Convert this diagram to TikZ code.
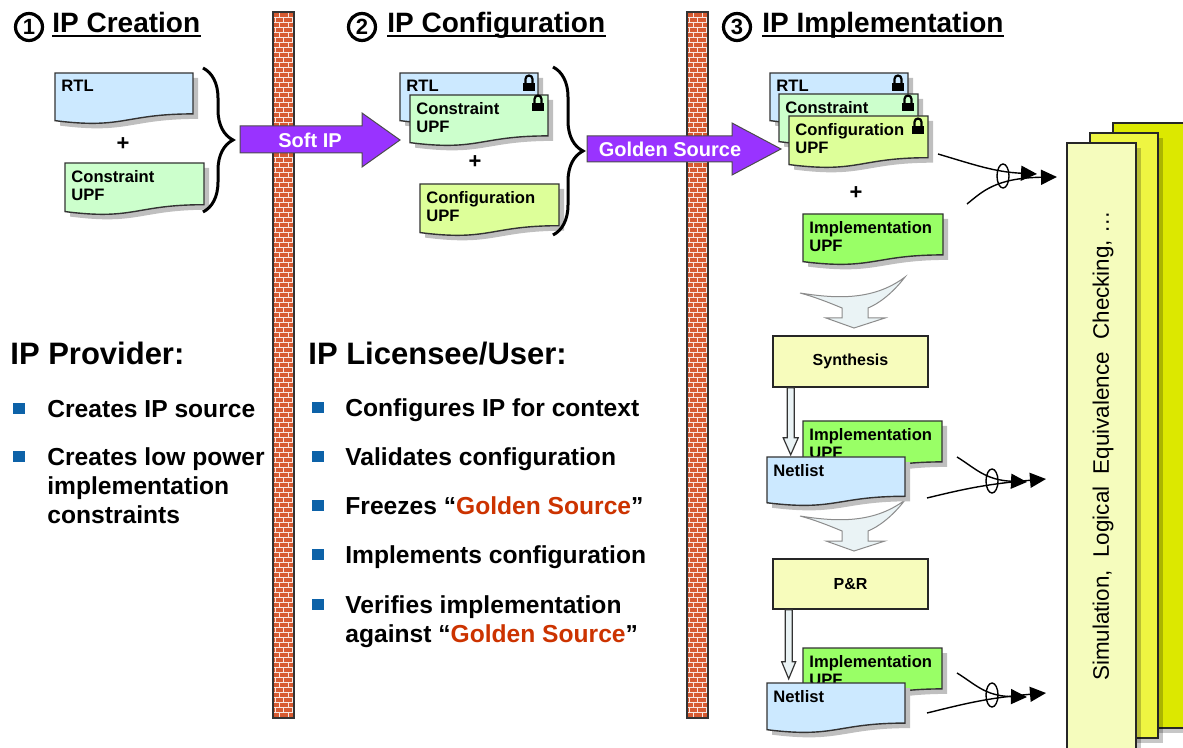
\documentclass[tikz,border=0pt]{standalone}
\usepackage{fontspec}
\setmainfont{Liberation Sans}
\usepackage{xcolor}
\usepackage{tikz}
\usetikzlibrary{shapes.geometric, arrows.meta, positioning, decorations.pathreplacing}

\definecolor{docblue}{HTML}{CCE9FF}
\definecolor{docmint}{HTML}{CCFFCC}
\definecolor{doclime}{HTML}{DDFF99}
\definecolor{docgreen}{HTML}{99FF66}
\definecolor{stepyellow}{HTML}{F7FCBC}
\definecolor{pageback}{HTML}{DCE800}
\definecolor{pagemid}{HTML}{EEF542}
\definecolor{pagefront}{HTML}{F5FCBD}
\definecolor{swoosh}{HTML}{EAF3F5}
\definecolor{arrowpurple}{HTML}{9933FF}
\definecolor{brick}{HTML}{D65A31}
\definecolor{golden}{HTML}{CC3300}
\definecolor{bulletblue}{HTML}{0D62A8}

\tikzstyle{docsheet} = [draw=black!80, line width=0.7pt]
\tikzstyle{docshadow} = [fill=black!25]
\tikzstyle{doctext} = [font=\bfseries\fontsize{8.3}{9}\selectfont, align=left, inner sep=0pt, anchor=north west]
\tikzstyle{stepbox} = [rectangle, draw=black!85, line width=0.8pt, fill=stepyellow, minimum width=77.5pt, minimum height=25.5pt, font=\bfseries\fontsize{8}{9}\selectfont]
\tikzstyle{plus} = [font=\bfseries\fontsize{11}{12}\selectfont, inner sep=0pt]
\tikzstyle{numcircle} = [circle, draw, line width=1.6pt, minimum size=13.5pt, inner sep=0pt, font=\bfseries\fontsize{11}{11}\selectfont]
\tikzstyle{titletext} = [anchor=base west, inner sep=0pt, font=\bfseries\fontsize{14}{16}\selectfont]
\tikzstyle{heading} = [anchor=base west, inner sep=0pt, font=\bfseries\fontsize{15.5}{18}\selectfont]
\tikzstyle{listitem} = [anchor=north west, inner sep=0pt, align=left, font=\bfseries\fontsize{12.3}{14.5}\selectfont]
\tikzstyle{bulletsq} = [rectangle, fill=bulletblue, minimum size=5.7pt, inner sep=0pt]
\tikzstyle{bigarrow} = [fill=arrowpurple, draw=black!70, line width=0.5pt]
\tikzstyle{arrowtext} = [text=white, font=\bfseries\fontsize{10}{12}\selectfont, inner sep=0pt]
\tikzstyle{hollow} = [fill=swoosh, draw=black!80, line width=0.6pt]
\tikzstyle{swooshshape} = [fill=swoosh, draw=black!45, line width=0.5pt]
\tikzstyle{bundle} = [line width=0.7pt, -{Triangle[length=8pt,width=7.5pt]}]
\tikzstyle{pagesheet} = [draw=black!85, line width=0.7pt]
\tikzstyle{bracestyle} = [decorate, decoration={brace, amplitude=15pt}, line width=1.5pt]
\tikzstyle{mortar} = [white!85!brick, line width=0.45pt]

\newcommand{\docpage}[7]{%
  \begin{scope}[shift={(#2,#3)}]
    \fill[docshadow] (5,5) -- (#4+5,5) -- (#4+5,0.802*#5+5) .. controls (#4/2+5,0.802*#5+5) and (#4/2+5,1.107*#5+5) .. (5,0.934*#5+5) -- cycle;
    \draw[docsheet, fill=#6] (0,0) -- (#4,0) -- (#4,0.802*#5) .. controls (#4/2,0.802*#5) and (#4/2,1.107*#5) .. (0,0.934*#5) -- cycle;
    \node[doctext] (#1) at (6,7) {#7};
  \end{scope}}

\newcommand{\padlock}[2]{%
  \fill (#1-6,#2) rectangle (#1+6,#2+8);
  \draw[line width=1.1pt] (#1-3.5,#2) -- (#1-3.5,#2-4) arc[start angle=180, end angle=360, radius=3.5] -- (#1+3.5,#2);}

\begin{document}
\begin{tikzpicture}[x=0.5pt, y=-0.5pt]
    \useasboundingbox (0,0) rectangle (1183,748);

    % brick walls
    \foreach \wx in {273,687} {
        \begin{scope}
            \clip (\wx,12) rectangle (\wx+21,718);
            \fill[brick] (\wx,12) rectangle (\wx+21,718);
            \foreach \r in {0,2,...,140} {
                \draw[mortar] (\wx,12+5*\r) -- ++(21,0) (\wx+6,12+5*\r) -- ++(0,5) (\wx+15,12+5*\r) -- ++(0,5);
                \draw[mortar] (\wx,17+5*\r) -- ++(21,0) (\wx+2,17+5*\r) -- ++(0,5) (\wx+10.5,17+5*\r) -- ++(0,5) (\wx+19,17+5*\r) -- ++(0,5);
            }
        \end{scope}
        \draw[line width=0.7pt, black!80] (\wx,12) rectangle (\wx+21,718);
    }

    % titles
    \node[numcircle] (c1) at (29,27) {1};
    \node[titletext] (t1) at (52,33) {IP Creation};
    \node[numcircle] (c2) at (362,27) {2};
    \node[titletext] (t2) at (387,33) {IP Configuration};
    \node[numcircle] (c3) at (737,27) {3};
    \node[titletext] (t3) at (762,33) {IP Implementation};
    \foreach \t in {t1,t2,t3}
        \draw[line width=1.1pt] ([yshift=-1.6pt]\t.base west) -- ([yshift=-1.6pt]\t.base east);

    % IP creation
    \docpage{rtlA}{55}{73}{138}{51}{docblue}{RTL}
    \node[plus] (plusA) at (123,144) {+};
    \docpage{conA}{65}{163}{139}{52}{docmint}{Constraint\\UPF}
    \draw[bracestyle] (203,68) -- (203,212);
    \draw[bigarrow] (240,126) -- (362,126) -- (362,113) -- (400,140) -- (362,167) -- (362,153) -- (240,153) -- cycle;
    \node[arrowtext] (softip) at (310,140) {Soft IP};

    % IP configuration
    \docpage{rtlB}{400}{73}{138}{51}{docblue}{RTL}
    \padlock{529}{83}
    \docpage{conB}{410}{95}{138}{51}{docmint}{Constraint\\UPF}
    \padlock{538}{103}
    \node[plus] (plusB) at (475,162) {+};
    \docpage{cfgB}{420}{184}{139}{52}{doclime}{Configuration\\UPF}
    \draw[bracestyle] (553,67) -- (553,235);
    \draw[bigarrow] (587,136) -- (732,136) -- (732,123) -- (781,149) -- (732,175) -- (732,162) -- (587,162) -- cycle;
    \node[arrowtext] (golden) at (670,149) {Golden\ Source};

    % IP implementation
    \docpage{rtlC}{770}{73}{138}{51}{docblue}{RTL}
    \padlock{898}{83}
    \docpage{conC}{779}{94}{139}{51}{docmint}{Constraint}
    \padlock{908}{103}
    \docpage{cfgC}{789}{116}{139}{52}{doclime}{Configuration\\UPF}
    \padlock{918}{126}
    \node[plus] (plusC) at (856,193) {+};
    \docpage{impC}{803}{214}{140}{51}{docgreen}{Implementation\\UPF}

    \foreach \dy in {0,223}
        \draw[swooshshape, shift={(0,\dy)}] (800,293) .. controls (832,298) and (872,302) .. (905,277) .. controls (892,294) and (878,304) .. (868,308) -- (868,318) -- (885,318) -- (854,328) -- (826,318) -- (842,318) -- (842,308) .. controls (830,303) and (815,297) .. (800,293) -- cycle;

    \node[stepbox] (synth) at (850.5,361.5) {Synthesis};
    \docpage{impD}{803}{421}{139}{51}{docgreen}{Implementation\\UPF}
    \docpage{netD}{767}{457}{138}{49}{docblue}{Netlist}
    \draw[hollow] ([xshift=7.5pt]synth.south west) -- ++(7,0) -- ++(0,50) -- ++(4,0) -- ++(-7.5,17) -- ++(-7.5,-17) -- ++(4,0) -- cycle;

    \node[stepbox, minimum height=25pt] (pr) at (850.5,584) {P\&R};
    \docpage{impE}{803}{648}{139}{51}{docgreen}{Implementation\\UPF}
    \docpage{netE}{767}{683}{138}{50}{docblue}{Netlist}
    \draw[hollow] ([xshift=6.5pt]pr.south west) -- ++(7,0) -- ++(0,52) -- ++(3.5,0) -- ++(-7,17) -- ++(-7,-17) -- ++(3.5,0) -- cycle;

    % verification pages
    \fill[black, opacity=0.22] (1118,128) rectangle (1195,733);
    \draw[pagesheet, fill=pageback] (1113,123) rectangle (1195,728);
    \fill[black, opacity=0.22] (1095,138) rectangle (1163,743);
    \draw[pagesheet, fill=pagemid] (1090,133) rectangle (1158,738);
    \fill[black, opacity=0.22] (1072,148) rectangle (1141,760);
    \draw[pagesheet, fill=pagefront] (1067,143) rectangle (1136,760);
    \node[rotate=90, font=\fontsize{11.2}{13}\selectfont] (checks) at (1103,446) {Simulation,\ \ Logical\ \ Equivalence\ \ Checking,\ …};

    % bundles into the checks
    \coordinate (tapA1) at (938,154);
    \coordinate (tapA2) at (967,204);
    \coordinate (tapB1) at (957,457);
    \coordinate (tapB2) at (927,498);
    \coordinate (tapC1) at (957,673);
    \coordinate (tapC2) at (927,713);
    \draw[bundle] (tapA1) .. controls (975,165) and (995,172) .. (1037,174);
    \draw[bundle] (tapA2) .. controls (982,192) and (995,178) .. (1057,177);
    \draw[line width=0.7pt] (1003,176) ellipse [x radius=6, y radius=12];
    \draw[bundle] (tapB1) .. controls (975,468) and (985,480) .. (1027,482);
    \draw[bundle] (tapB2) .. controls (960,490) and (985,484) .. (1046,479);
    \draw[line width=0.7pt] (992,481) ellipse [x radius=6, y radius=12];
    \draw[bundle] (tapC1) .. controls (975,684) and (985,696) .. (1027,697);
    \draw[bundle] (tapC2) .. controls (960,705) and (985,698) .. (1046,693);
    \draw[line width=0.7pt] (992,695) ellipse [x radius=6, y radius=12];

    % provider and licensee
    \node[heading] (prov) at (10,365) {IP Provider:};
    \node[bulletsq] (pb1) at (19,408.5) {};
    \node[listitem] (p1) at (47,399.5) {Creates IP source};
    \node[bulletsq] (pb2) at (19,456.5) {};
    \node[listitem] (p2) at (47,447.5) {Creates low power\\implementation\\constraints};

    \node[heading] (lic) at (308,365) {IP Licensee/User:};
    \foreach \i/\yy/\txt in {1/416/{Configures IP for context}, 2/465/{Validates configuration}, 3/514/{Freezes “\textcolor{golden}{Golden Source}”}, 4/563/{Implements configuration}, 5/613/{Verifies implementation\\against “\textcolor{golden}{Golden Source}”}} {
        \node[bulletsq] (ub\i) at (318,\yy-8.5) {};
        \node[listitem] (u\i) at (345,\yy-17.5) {\txt};
    }
\end{tikzpicture}
\end{document}
